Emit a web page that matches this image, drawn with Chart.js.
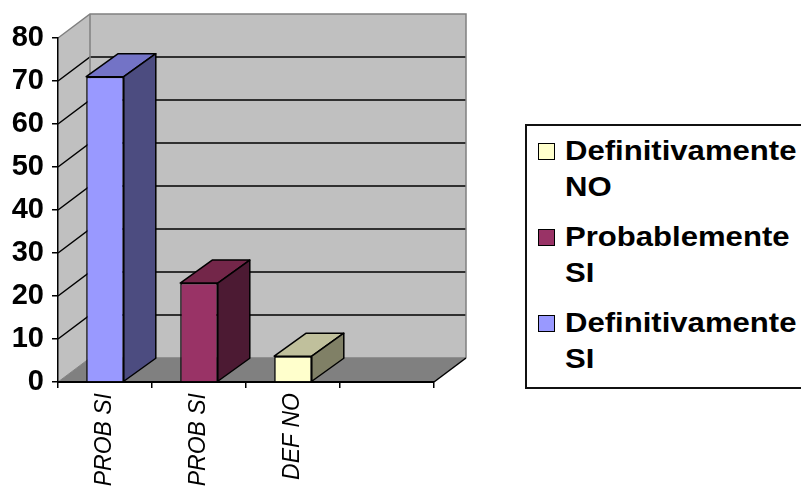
<!DOCTYPE html>
<html>
<head>
<meta charset="utf-8">
<script src="https://cdn.jsdelivr.net/npm/chart.js@4/dist/chart.umd.min.js"></script>
<style>
    body { margin: 0; background: #fff; overflow: hidden; }
    #wrap { position: relative; width: 801px; height: 491px; overflow: hidden; }
    #legend {
        position: absolute; left: 525px; top: 124px; width: 320px; height: 254px;
        border: 2px solid #111; background: #fff;
        font-family: 'Liberation Sans', Arial, sans-serif; font-weight: bold; font-size: 28px;
        padding-top: 7px; box-sizing: content-box;
    }
    .item { position: relative; margin-bottom: 14px; }
    .item .box { position: absolute; left: 11px; top: 10px; width: 15px; height: 15px; border: 1px solid #000; }
    .item .txt { display: inline-block; margin-left: 38px; line-height: 36px; transform: scaleX(1.11); transform-origin: left center; color: #000; }
</style>
</head>
<body>
<div id="wrap">
    <canvas id="chart" width="801" height="491"></canvas>
    <div id="legend"></div>
</div>
<script>
const categories = ['PROB SI', 'PROB SI', 'DEF NO', ''];
const defSiValues = [71, null, null, null];
const probSiValues = [null, 23, null, null];
const defNoValues = [null, null, 6, null];
const seriesNames = ['Definitivamente SI', 'Probablemente SI', 'Definitivamente NO'];
const yMin = 0, yMax = 80, yStep = 10;

// front, top, side colours for each series
const faceColors = [
    ['#9999FF', '#7373C6', '#4C4C80'],
    ['#993366', '#732649', '#4C1A33'],
    ['#FFFFCC', '#C0C09C', '#808066']
];

const DX = 32, DY = 24;   // depth offset of the walls
const BX = 32, BY = 23;   // depth offset of the columns

function poly(ctx, pts, fill, stroke, lw) {
    ctx.beginPath();
    ctx.moveTo(pts[0][0], pts[0][1]);
    for (let i = 1; i < pts.length; i++) ctx.lineTo(pts[i][0], pts[i][1]);
    ctx.closePath();
    if (fill) { ctx.fillStyle = fill; ctx.fill(); }
    if (stroke) { ctx.strokeStyle = stroke; ctx.lineWidth = lw || 1; ctx.stroke(); }
}

function line(ctx, pts, color, lw) {
    ctx.beginPath();
    ctx.moveTo(pts[0][0], pts[0][1]);
    for (let i = 1; i < pts.length; i++) ctx.lineTo(pts[i][0], pts[i][1]);
    ctx.strokeStyle = color; ctx.lineWidth = lw; ctx.stroke();
}

const walls3d = {
    id: 'walls3d',
    beforeDraw(chart) {
        const ctx = chart.ctx;
        const { left, right, top, bottom } = chart.chartArea;
        const y = chart.scales.y;
        ctx.save();
        // left wall, back wall, floor
        poly(ctx, [[left, top], [left + DX, top - DY], [left + DX, bottom - DY], [left, bottom]], '#C0C0C0');
        poly(ctx, [[left + DX, top - DY], [right + DX, top - DY], [right + DX, bottom - DY], [left + DX, bottom - DY]], '#C0C0C0');
        poly(ctx, [[left, bottom], [right, bottom], [right + DX, bottom - DY], [left + DX, bottom - DY]], '#808080');

        // gridlines across the left wall and the back wall
        for (let v = yMin + yStep; v < yMax; v += yStep) {
            const py = y.getPixelForValue(v);
            line(ctx, [[left, py], [left + DX, py - DY], [right + DX, py - DY]], '#000', 1.5);
        }

        // wall edges
        line(ctx, [[left, top], [left + DX, top - DY], [right + DX, top - DY], [right + DX, bottom - DY]], '#808080', 1.5);
        line(ctx, [[left + DX, top - DY], [left + DX, bottom - DY], [right + DX, bottom - DY]], '#808080', 1.5);
        line(ctx, [[left, bottom], [left + DX, bottom - DY]], '#808080', 1);
        line(ctx, [[right, bottom], [right + DX, bottom - DY]], '#000', 1.5);
        ctx.restore();
    },
    afterDatasetsDraw(chart) {
        const ctx = chart.ctx;
        ctx.save();
        ctx.lineJoin = 'round';
        chart.data.datasets.forEach((ds, i) => {
            const meta = chart.getDatasetMeta(i);
            meta.data.forEach((bar, j) => {
                if (ds.data[j] == null) return;
                const { x, y, base, width } = bar.getProps(['x', 'y', 'base', 'width'], true);
                const l = x - width / 2, r = x + width / 2;
                const c = faceColors[i];
                poly(ctx, [[l, y], [l + BX, y - BY], [r + BX, y - BY], [r, y]], c[1], '#000', 1.5);
                poly(ctx, [[r, y], [r + BX, y - BY], [r + BX, base - BY], [r, base]], c[2], '#000', 1.5);
            });
        });
        ctx.restore();
    }
};

const fontFamily = "'Liberation Sans', Arial, sans-serif";

const ctx = document.getElementById('chart').getContext('2d');
const chart = new Chart(ctx, {
    type: 'bar',
    data: {
        labels: categories,
        datasets: [
            { label: seriesNames[0], data: defSiValues, backgroundColor: faceColors[0][0] },
            { label: seriesNames[1], data: probSiValues, backgroundColor: faceColors[1][0] },
            { label: seriesNames[2], data: defNoValues, backgroundColor: faceColors[2][0] }
        ].map(d => Object.assign(d, {
            borderColor: '#000', borderWidth: 1.5,
            categoryPercentage: 1, barPercentage: 0.4
        }))
    },
    options: {
        responsive: false,
        animation: false,
        layout: { padding: { top: 38, right: 367, left: 0, bottom: 0 } },
        plugins: { legend: { display: false }, tooltip: { enabled: false } },
        scales: {
            x: {
                stacked: true,
                grid: { offset: true, drawOnChartArea: false, drawTicks: true, tickLength: 6, color: '#000', lineWidth: 1.5 },
                border: { display: true, color: '#000', width: 2 },
                ticks: {
                    autoSkip: false, minRotation: 90, maxRotation: 90, padding: 5,
                    color: '#000', font: { family: fontFamily, size: 23, style: 'italic' }
                },
                afterFit(scale) { scale.height = 109; }
            },
            y: {
                stacked: true,
                min: yMin, max: yMax,
                grid: { drawOnChartArea: false, drawTicks: true, tickLength: 6, color: '#000', lineWidth: 1.5 },
                border: { display: true, color: '#000', width: 1.5 },
                ticks: {
                    stepSize: yStep, padding: 8, color: '#000',
                    font: { family: fontFamily, size: 29, weight: 'bold' }
                },
                afterFit(scale) { scale.width = 58; }
            }
        }
    },
    plugins: [walls3d]
});

// legend lists the series in reverse order, name wrapped onto two lines
const legend = document.getElementById('legend');
for (let i = seriesNames.length - 1; i >= 0; i--) {
    const item = document.createElement('div');
    item.className = 'item';
    const box = document.createElement('span');
    box.className = 'box';
    box.style.background = faceColors[i][0];
    const txt = document.createElement('span');
    txt.className = 'txt';
    txt.innerHTML = seriesNames[i].replace(' ', '<br>');
    item.appendChild(box);
    item.appendChild(txt);
    legend.appendChild(item);
}
</script>
</body>
</html>
